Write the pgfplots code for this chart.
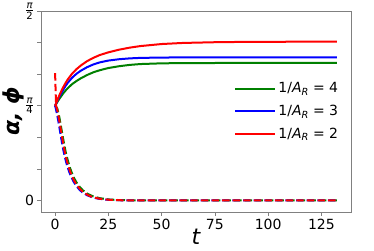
\documentclass[border=0pt]{standalone}
\usepackage{fontspec}
\setmainfont{DejaVu Sans}
\usepackage{pgfplots}
\pgfplotsset{compat=1.18}
\definecolor{mgreen}{rgb}{0,0.5,0}
\definecolor{mblue}{rgb}{0,0,1}
\definecolor{mred}{rgb}{1,0,0}
\newcommand{\pifrac}[1]{$\frac{\mbox{\fontsize{10}{10}\selectfont\itshape π}}{\mbox{\fontsize{10}{10}\selectfont #1}}$}
\newcommand{\leg}[1]{1/\textit{A}\textsubscript{\textit{R}}\hspace{0.3em}=\hspace{0.3em}#1}
\begin{document}
\begin{tikzpicture}
\useasboundingbox (-41pt,-38pt) rectangle (333pt,212pt);
\begin{axis}[
  at={(0,0)}, anchor=south west,
  scale only axis, width=310pt, height=201pt,
  xmin=-6.62, xmax=138.9,
  ymin=-0.0955, ymax=1.5708,
  xtick={0,25,50,75,100,125},
  ytick={0,0.261799,0.523599,0.785398,1.047198,1.308997,1.570796},
  yticklabels={0,,,\pifrac{4},,,\pifrac{2}},
  /pgf/number format/assume math mode=true,
  tick label style={font=\fontsize{14}{14}\selectfont},
  tick align=outside, major tick length=3.5pt,
  tick style={gray, line width=0.6pt},
  axis line style={gray, line width=0.8pt},
  xtick pos=bottom, ytick pos=left,
  xlabel={\fontsize{22}{22}\selectfont\itshape t},
  ylabel={\fontsize{22}{22}\selectfont\bfseries\itshape α, ϕ},
  xlabel style={yshift=7pt},
  ylabel style={yshift=-6pt},
  legend style={draw=none, fill=none, at={(axis description cs:0.965,0.5)}, anchor=east,
    font=\fontsize{14}{14}\selectfont, row sep=7pt, inner sep=0pt},
  legend cell align=left,
  legend image code/.code={\draw[#1] (0pt,0pt) -- (31pt,0pt); \path (0pt,0pt) -- (40pt,0pt);},
  every axis plot/.append style={line width=2pt},
]
% green
\addplot[mgreen] coordinates {(0,0.785)(1,0.815)(2,0.843)(3,0.868)(4,0.892)(5,0.913)(6,0.932)(8,0.965)(10,0.99)(12,1.012)(15,1.04)(18,1.063)(21,1.08)(25,1.098)(30,1.113)(35,1.124)(40,1.131)(50,1.137)(60,1.139)(80,1.140)(132.3,1.140)};
\addlegendentry{\leg{4}}
\addplot[mgreen, dash pattern=on 7.4pt off 3.2pt, forget plot] coordinates {(0,0.785)(1,0.765)(2,0.69)(3,0.59)(4,0.49)(5,0.40)(6,0.33)(7,0.27)(8,0.222)(9,0.183)(10,0.151)(11.6,0.111)(13,0.085)(15.5,0.053)(18,0.033)(21,0.019)(25,0.0088)(30,0.0034)(35,0.0013)(40,0.0005)(50,0)(132.3,0)};
% blue
\addplot[mblue] coordinates {(0,0.785)(1,0.825)(2,0.86)(3,0.893)(4,0.924)(5,0.952)(6,0.977)(8,1.018)(10,1.05)(12,1.075)(15,1.105)(18,1.128)(21,1.145)(25,1.16)(30,1.171)(35,1.178)(40,1.182)(50,1.185)(60,1.186)(80,1.187)(132.3,1.187)};
\addlegendentry{\leg{3}}
\addplot[mblue, dash pattern=on 7.4pt off 3.2pt, forget plot] coordinates {(0,0.785)(0.5,0.75)(1.5,0.66)(2.5,0.555)(3.5,0.45)(4.5,0.365)(5.5,0.298)(6.5,0.243)(7.5,0.198)(8.5,0.162)(9.5,0.133)(11.1,0.096)(12.5,0.072)(15,0.0435)(17.5,0.026)(20.5,0.0143)(24.5,0.0063)(29.5,0.0023)(34.5,0.0008)(39.5,0.0003)(50,0)(132.3,0)};
% red
\addplot[mred] coordinates {(0,0.785)(1,0.83)(2,0.872)(3,0.91)(4,0.945)(5,0.977)(6,1.005)(8,1.052)(10,1.088)(12,1.118)(15,1.155)(18,1.183)(21,1.206)(25,1.228)(30,1.250)(35,1.267)(40,1.280)(50,1.297)(60,1.306)(75,1.312)(90,1.315)(110,1.316)(132.3,1.317)};
\addlegendentry{\leg{2}}
\addplot[mred, dash pattern=on 7.4pt off 3.2pt, forget plot] coordinates {(0,1.055)(0.45,0.785)(1,0.75)(2,0.66)(3,0.555)(4,0.45)(5,0.365)(6,0.298)(7,0.243)(8,0.198)(9,0.162)(10,0.133)(11.6,0.096)(13,0.072)(15.5,0.0435)(18,0.026)(21,0.0143)(25,0.0063)(30,0.0023)(35,0.0008)(40,0.0003)(50,0)(132.3,0)};
\end{axis}
\end{tikzpicture}
\end{document}
